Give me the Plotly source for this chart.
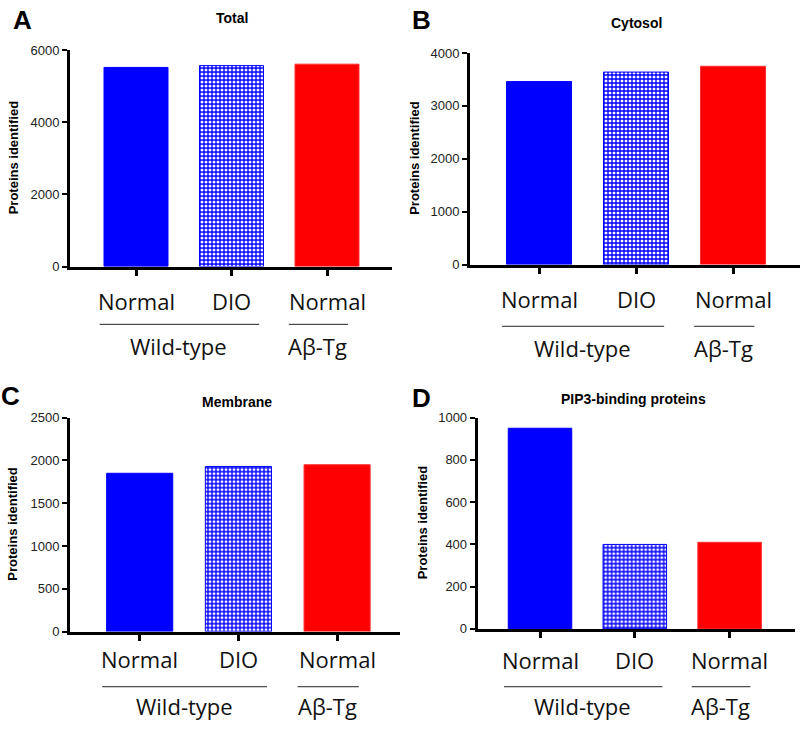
import plotly.graph_objects as go

# ---- data ----
categories = ["Normal", "DIO", "Normal"]
groups = ["Wild-type", "Aβ-Tg"]
panel_letters = ["A", "B", "C", "D"]
panel_titles = ["Total", "Cytosol", "Membrane", "PIP3-binding proteins"]
total_vals = [5520, 5570, 5610]
cytosol_vals = [3460, 3640, 3750]
membrane_vals = [1850, 1930, 1950]
pip3_vals = [950, 400, 410]
y_max = [6000, 4000, 2500, 1000]
y_dtick = [2000, 1000, 500, 200]
y_title = "Proteins identified"

W, H = 800, 729
values = [total_vals, cytosol_vals, membrane_vals, pip3_vals]

# layout geometry (pixels)
# (yaxis x, first bar center, spacing, axis right end, top px, bottom px)
geo = [
    (70, 136, 95.5, 392, 44, 265),
    (470, 539, 97, 800, 47, 263),
    (70, 139.7, 98.7, 400, 419.3, 637.7),
    (477.7, 540, 94.8, 795, 419.3, 635),
]
title_pos = [(232, 11), (636, 16), (237, 403), (633, 400)]
letter_pos = [(22, 13), (421, 13), (10, 397), (421, 399)]
ylab_x = [13, 415, 13, 422]
# (category label y, group line y, group label y)
label_rows = [(300, 324, 346), (298, 326, 348), (666, 694, 714), (667, 694, 714)]

fig = go.Figure()
annotations = []
shapes = []
colors = ["#0000FF", "#0000FF", "#FF0000"]

def px2x(p):
    return p / W

def px2y(p):
    return 1 - p / H

for i in range(4):
    ax, c0, sp, xr, top, bot = geo[i]
    n = i + 1
    xa = "x" if n == 1 else f"x{n}"
    ya = "y" if n == 1 else f"y{n}"
    xlo = (ax - c0) / sp
    xhi = (xr - c0) / sp
    xs = list(range(len(categories)))
    fig.add_trace(go.Bar(
        x=xs, y=values[i], xaxis=xa, yaxis=ya, width=0.67,
        marker=dict(
            color=colors,
            line=dict(color=["#0000FF", "#0000FF", "#FF3030"], width=1),
            pattern=dict(shape=["", "+", ""], bgcolor="#FFFFFF", fgopacity=1,
                         size=4, solidity=0.55, fillmode="replace"),
        ),
        showlegend=False, hoverinfo="skip",
    ))
    xkey = "xaxis" if n == 1 else f"xaxis{n}"
    ykey = "yaxis" if n == 1 else f"yaxis{n}"
    fig.layout[xkey] = dict(
        domain=[px2x(ax), px2x(xr)], range=[xlo, xhi], anchor=ya,
        showgrid=False, zeroline=False, showline=True, linecolor="black", linewidth=3,
        ticks="outside", ticklen=6, tickwidth=3, tickcolor="black",
        tickvals=xs, showticklabels=False, fixedrange=True,
    )
    fig.layout[ykey] = dict(
        domain=[px2y(bot), px2y(top)], range=[0, y_max[i]], anchor=xa,
        showgrid=False, zeroline=False, showline=True, linecolor="black", linewidth=3,
        ticks="outside", ticklen=5, tickwidth=2, tickcolor="black", dtick=y_dtick[i],
        tickfont=dict(family="Liberation Sans", size=13, color="#222"),
        fixedrange=True,
    )
    # y title
    annotations.append(dict(
        text=f"<b>{y_title}</b>", x=px2x(ylab_x[i]), y=px2y((top + bot) / 2),
        xref="paper", yref="paper", textangle=-90, showarrow=False,
        font=dict(family="Liberation Sans", size=13, color="black"),
        xanchor="center", yanchor="middle"))
    # panel title
    annotations.append(dict(
        text=f"<b>{panel_titles[i]}</b>", x=px2x(title_pos[i][0]), y=px2y(title_pos[i][1]),
        xref="paper", yref="paper", showarrow=False,
        font=dict(family="Liberation Sans", size=14, color="black"),
        xanchor="center", yanchor="middle"))
    # panel letter
    annotations.append(dict(
        text=f"<b>{panel_letters[i]}</b>", x=px2x(letter_pos[i][0]), y=px2y(letter_pos[i][1]),
        xref="paper", yref="paper", showarrow=False,
        font=dict(family="Liberation Sans", size=26, color="black"),
        xanchor="center", yanchor="middle"))
    cat_y, line_y, grp_y = label_rows[i]
    for j, c in enumerate(categories):
        annotations.append(dict(
            text=c, x=j, y=px2y(cat_y), xref=xa, yref="paper", showarrow=False,
            font=dict(family="Open Sans", size=22, color="#111"),
            xanchor="center", yanchor="middle"))
    spans = [(-0.38, 1.29), (1.6, 2.22)]
    centers = [0.45, 1.9]
    for g, (a, b) in enumerate(spans):
        shapes.append(dict(type="line", xref=xa, yref="paper", x0=a, x1=b,
                           y0=px2y(line_y), y1=px2y(line_y),
                           line=dict(color="#222", width=1)))
        annotations.append(dict(
            text=groups[g], x=centers[g], y=px2y(grp_y), xref=xa, yref="paper",
            showarrow=False, font=dict(family="Open Sans", size=22, color="#111"),
            xanchor="center", yanchor="middle"))

fig.update_layout(
    width=W, height=H, margin=dict(l=0, r=0, t=0, b=0),
    plot_bgcolor="white", paper_bgcolor="white",
    annotations=annotations, shapes=shapes,
)
fig.write_html("out.html", config={"displayModeBar": False},
               post_script="document.body.style.margin='0';document.body.style.overflow='hidden';")
